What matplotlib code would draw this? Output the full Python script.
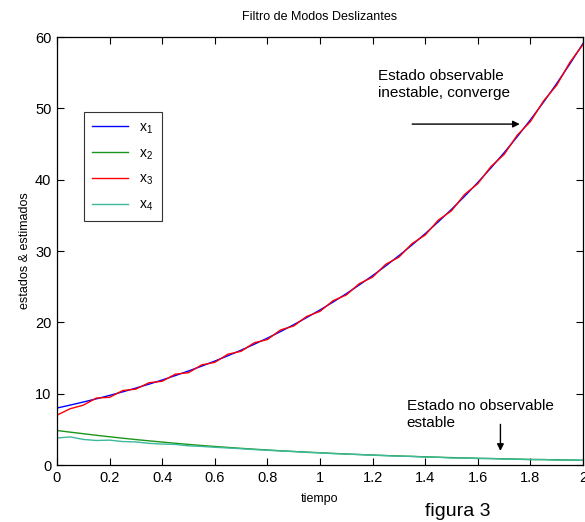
import matplotlib
matplotlib.use("Agg")
import matplotlib.pyplot as plt

plt.rcParams["font.family"] = ["Liberation Sans", "DejaVu Sans"]

# tiempo de muestreo de los estados reales y estimados
t = [0.00, 0.05, 0.10, 0.15, 0.20, 0.25, 0.30, 0.35, 0.40, 0.45,
     0.50, 0.55, 0.60, 0.65, 0.70, 0.75, 0.80, 0.85, 0.90, 0.95,
     1.00, 1.05, 1.10, 1.15, 1.20, 1.25, 1.30, 1.35, 1.40, 1.45,
     1.50, 1.55, 1.60, 1.65, 1.70, 1.75, 1.80, 1.85, 1.90, 1.95, 2.00]

# estado observable (inestable)
x1 = [8.00, 8.41, 8.84, 9.29, 9.77, 10.27, 10.80, 11.35, 11.93, 12.55,
      13.19, 13.87, 14.58, 15.33, 16.11, 16.94, 17.80, 18.72, 19.68, 20.69,
      21.75, 22.86, 24.03, 25.27, 26.56, 27.92, 29.36, 30.86, 32.44, 34.11,
      35.85, 37.69, 39.62, 41.66, 43.79, 46.04, 48.40, 50.88, 53.49, 56.23, 59.11]

# estado no observable (estable)
x2 = [4.85, 4.62, 4.40, 4.18, 3.97, 3.77, 3.58, 3.40, 3.23, 3.06,
      2.90, 2.75, 2.61, 2.48, 2.35, 2.23, 2.12, 2.01, 1.91, 1.82,
      1.73, 1.64, 1.56, 1.48, 1.41, 1.34, 1.28, 1.22, 1.16, 1.10,
      1.05, 1.00, 0.96, 0.92, 0.88, 0.84, 0.80, 0.77, 0.74, 0.71, 0.68]

# estimado de x1 (modos deslizantes)
x3 = [7.00, 7.90, 8.40, 9.40, 9.50, 10.45, 10.65, 11.55, 11.75, 12.75,
      12.95, 14.05, 14.40, 15.55, 15.95, 17.15, 17.60, 18.95, 19.50, 20.85,
      21.55, 23.05, 23.85, 25.45, 26.35, 28.15, 29.15, 31.05, 32.25, 34.35,
      35.65, 37.95, 39.45, 41.85, 43.55, 46.25, 48.15, 51.05, 53.25, 56.45, 58.95]

# estimado de x2
x4 = [3.80, 3.95, 3.60, 3.45, 3.50, 3.30, 3.25, 3.05, 2.95, 2.90,
      2.70, 2.62, 2.50, 2.40, 2.30, 2.18, 2.08, 1.98, 1.90, 1.78,
      1.72, 1.62, 1.54, 1.48, 1.38, 1.33, 1.24, 1.22, 1.12, 1.10,
      1.00, 1.00, 0.92, 0.92, 0.84, 0.82, 0.76, 0.78, 0.70, 0.72, 0.66]

fig = plt.figure(figsize=(5.85, 5.22), dpi=100)
ax = fig.add_axes([0.0974, 0.109, 0.8992, 0.820])

ax.plot(t, x1, color="blue", lw=1.0, label=r"$\mathregular{x_1}$")
ax.plot(t, x2, color="#1a961a", lw=1.0, label=r"$\mathregular{x_2}$")
ax.plot(t, x3, color="red", lw=1.0, label=r"$\mathregular{x_3}$")
ax.plot(t, x4, color="#3cb89c", lw=1.0, label=r"$\mathregular{x_4}$")

ax.set_xlim(0, 2)
ax.set_ylim(0, 60)
ax.set_xticks([0, 0.2, 0.4, 0.6, 0.8, 1, 1.2, 1.4, 1.6, 1.8, 2])
ax.set_xticklabels(["0", "0.2", "0.4", "0.6", "0.8", "1", "1.2", "1.4", "1.6", "1.8", "2"])
ax.set_yticks([0, 10, 20, 30, 40, 50, 60])
ax.tick_params(direction="in", top=True, right=True, length=5, labelsize=10.5, pad=4)
for s in ax.spines.values():
    s.set_linewidth(0.9)

ax.set_title("Filtro de Modos Deslizantes", fontsize=9, pad=12)
ax.set_xlabel("tiempo", fontsize=9, labelpad=6)
ax.set_ylabel("estados & estimados", fontsize=9, labelpad=3)

leg = ax.legend(loc="upper left", bbox_to_anchor=(0.051, 0.825), borderaxespad=0,
                fontsize=10, frameon=True, fancybox=False, edgecolor="black",
                handlelength=2.6, labelspacing=0.75, borderpad=0.6)
leg.get_frame().set_linewidth(0.8)

ax.text(1.22, 55.5, "Estado observable\ninestable, converge", fontsize=11,
        va="top", ha="left", linespacing=1.25)
ax.annotate("", xy=(1.77, 47.8), xytext=(1.34, 47.8),
            arrowprops=dict(arrowstyle="-|>", color="black", lw=1.0, mutation_scale=10))

ax.text(1.33, 9.2, "Estado no observable\nestable", fontsize=11,
        va="top", ha="left", linespacing=1.25)
ax.annotate("", xy=(1.686, 1.6), xytext=(1.686, 6.1),
            arrowprops=dict(arrowstyle="-|>", color="black", lw=1.0, mutation_scale=10))

fig.text(0.782, 0.012, "figura 3", fontsize=14, ha="center")

fig.savefig("out.png", dpi=100)
